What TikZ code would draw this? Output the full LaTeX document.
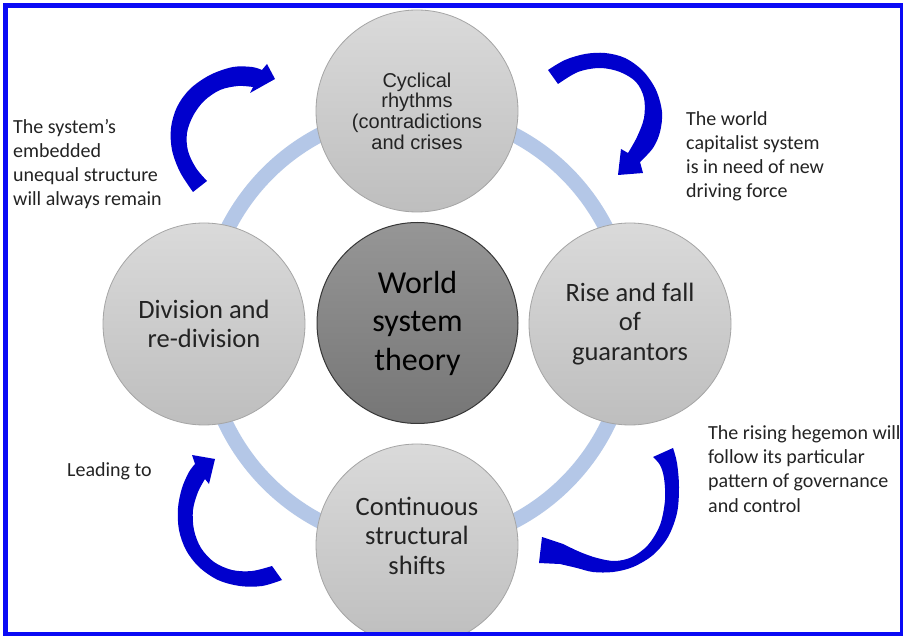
\documentclass[tikz,border=0pt]{standalone}
\usepackage{fontspec}
\setmainfont{Carlito}
\newfontfamily\arialf{Liberation Sans}
\definecolor{ringblue}{RGB}{180,199,231}
\definecolor{arrowblue}{RGB}{0,0,205}
\definecolor{frameblue}{RGB}{10,10,245}
\definecolor{cirtop}{RGB}{218,218,218}
\definecolor{cirbot}{RGB}{190,190,190}
\definecolor{cirline}{RGB}{165,165,165}
\definecolor{midtop}{RGB}{150,150,150}
\definecolor{midbot}{RGB}{118,118,118}
\definecolor{midline}{RGB}{55,55,55}
\definecolor{txt}{RGB}{35,35,35}
\begin{document}
\begin{tikzpicture}[x=1pt,y=-1pt,
  outercirc/.style={circle, draw=cirline, line width=0.8pt, top color=cirtop, bottom color=cirbot,
    minimum size=202pt, inner sep=0pt, align=center, text=txt},
  midcirc/.style={circle, draw=midline, line width=1pt, top color=midtop, bottom color=midbot,
    minimum size=201pt, inner sep=0pt, align=center, text=black},
  circtext/.style={align=center, inner sep=0pt, text=txt, font=\fontsize{26.5}{29.5}\selectfont},
  sidetext/.style={anchor=base west, align=left, inner sep=0pt, text=txt, font=\fontsize{20}{24.3}\selectfont},
  bluearrow/.style={fill=arrowblue},
  edge/.style={smooth, tension=0.55}
]
\useasboundingbox (0,0) rectangle (903,636);
\clip (0,0) rectangle (903,636);
\fill[white] (0,0) rectangle (903,636);

% ring
\draw[ringblue, line width=15pt] (417,328) ellipse [x radius=213pt, y radius=217pt];

% circles
\node[outercirc, font=\arialf\fontsize{20}{20.7}\selectfont] (cyc) at (417,111) {Cyclical\\rhythms\\(contradictions\\and crises};
\node[outercirc, font=\fontsize{26.5}{29.5}\selectfont] (div) at (204,324) {Division and\\re-division};
\node[outercirc, font=\fontsize{26.5}{29.5}\selectfont] (rise) at (630,324) {Rise and fall\\of\\guarantors};
\node[outercirc] (cont) at (417,545) {};
\node[circtext] (conttxt) at (417,535.5) {Continuous\\structural\\shifts};
\node[midcirc, font=\fontsize{32}{38.5}\selectfont] (wst) at (417.5,323) {World\\system\\theory};

% side texts (anchored at the baseline of their last line)
\node[sidetext] (t1) at (13,206) {The system’s\\embedded\\unequal structure\\will always remain};
\node[sidetext] (t2) at (686,198) {The world\\capitalist system\\is in need of new\\driving force};
\node[sidetext] (t3) at (708,512) {The rising hegemon will\\follow its particular\\pattern of governance\\and control};
\node[sidetext] (t4) at (67,476) {Leading to};

% arrow A (top-left)
\coordinate (tipA) at (275,79);
\fill[bluearrow] plot[edge] coordinates {(193,192) (180,172) (172,150) (171,128) (177,107) (190,89) (210,75) (233,67) (252,67) (262,70)}
  -- (267,64) -- (tipA) -- (250,93)
  -- plot[edge] coordinates {(253,87) (238,86) (220,90) (204,101) (193,116) (187,133) (188,151) (196,168) (207,181)} -- cycle;

% arrow B (top-right)
\coordinate (tipB) at (618,175);
\fill[bluearrow] plot[edge] coordinates {(548,70) (565,60) (585,54) (605,53) (625,58) (643,71) (656,90) (662,112) (660,132) (653,148) (640,162)}
  -- (643,173) -- (tipB) -- (621,149)
  -- plot[edge] coordinates {(628,153) (637,137) (644,118) (644,98) (636,82) (620,72) (600,68) (578,72) (558,84)} -- cycle;

% arrow C (bottom-left)
\coordinate (tipC) at (215,459);
\fill[bluearrow] plot[edge] coordinates {(282,580) (262,586) (240,586) (218,580) (199,567) (186,550) (179,530) (178,508) (182,488) (189,472) (195,464)}
  -- (192,455) -- (tipC) -- (209,484)
  -- plot[edge] coordinates {(205,479) (198,492) (193,510) (194,530) (201,548) (214,562) (232,570) (252,571) (272,566)} -- cycle;

% arrow D (bottom-right)
\coordinate (tipD) at (542,537);
\fill[bluearrow] plot[edge] coordinates {(673,448) (677,463) (679,487) (677,513) (668,537) (653,555) (633,567) (613,572) (593,572) (577,568) (560,564)}
  -- (539,563) -- (tipD) -- (563,544)
  -- plot[edge] coordinates {(563,544) (580,552) (597,558) (615,561) (632,557) (648,545) (660,525) (665,500) (664,478) (660,465) (653,457)} -- cycle;

% frame
\draw[frameblue, line width=5pt] (5.5,5.5) rectangle (902.5,634);
\end{tikzpicture}
\end{document}
